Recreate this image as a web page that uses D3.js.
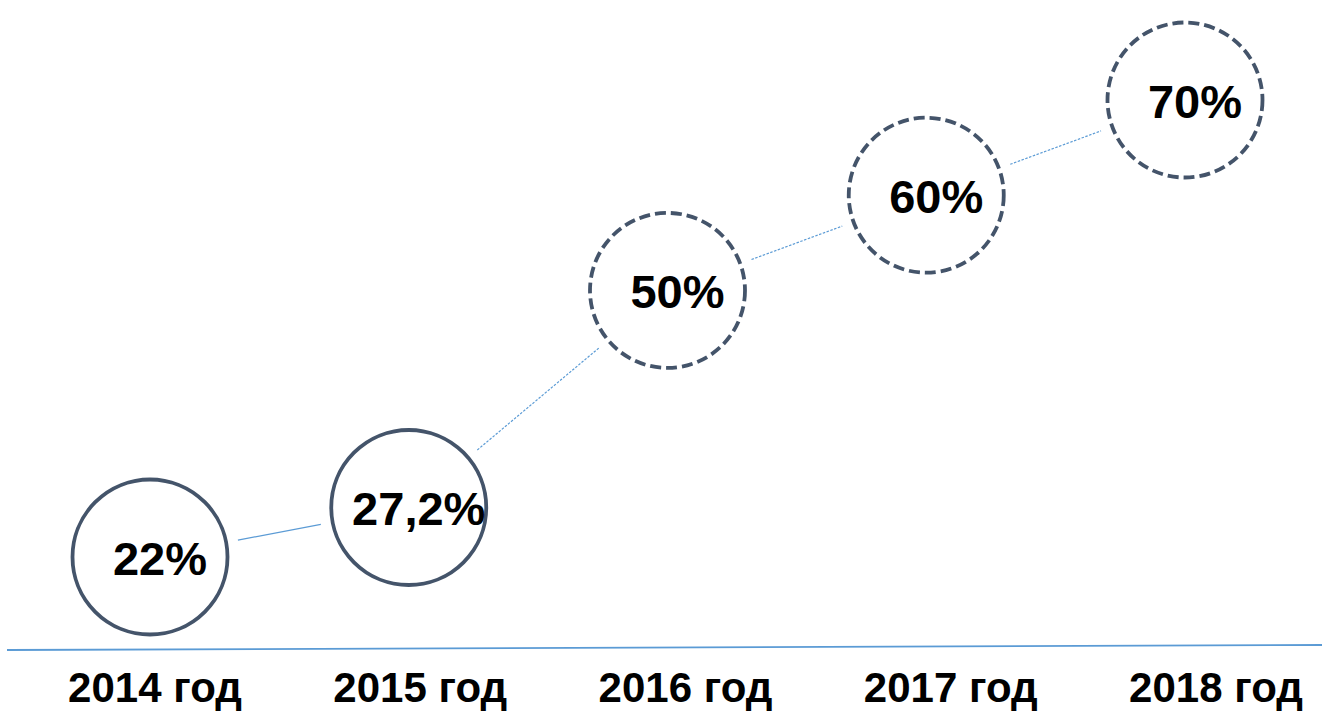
<!DOCTYPE html>
<html>
<head>
<meta charset="utf-8">
<script src="https://cdn.jsdelivr.net/npm/d3@7"></script>
<style>
body { margin: 0; background: #fff; }
svg { display: block; font-family: "Liberation Sans", Arial, sans-serif; }
</style>
</head>
<body>
<div id="chart"></div>
<script>
const years = ['2014 год', '2015 год', '2016 год', '2017 год', '2018 год'];
const values = [22, 27.2, 50, 60, 70];
const valueLabels = ['22%', '27,2%', '50%', '60%', '70%'];
const forecast = [false, false, true, true, true];

const width = 1322;
const height = 711;
const r = 77.5;

const svg = d3.select('#chart')
.append('svg')
.attr('width', width)
.attr('height', height);

const x = d3.scalePoint()
.domain(years)
.range([150, 1185]);

const xLabel = d3.scalePoint()
.domain(years)
.range([155, 1216]);

const y = d3.scaleLinear()
.domain([22, 70])
.range([557, 100]);

const points = years.map((d, i) => ({
    year: d,
    value: values[i],
    label: valueLabels[i],
    forecast: forecast[i],
    cx: x(d),
    cy: y(values[i])
}));

// baseline
svg.append('line')
.attr('x1', 7).attr('y1', 650)
.attr('x2', width).attr('y2', 645)
.attr('stroke', '#5B9BD5')
.attr('stroke-width', 1.8);

// connectors between circles
const links = d3.pairs(points);
svg.selectAll('.link')
.data(links)
.enter()
.append('line')
.attr('class', 'link')
.each(function(d) {
    const a = d[0], b = d[1];
    const dx = b.cx - a.cx, dy = b.cy - a.cy;
    const len = Math.sqrt(dx * dx + dy * dy);
    const gap = r + 12;
    d3.select(this)
    .attr('x1', a.cx + dx / len * gap)
    .attr('y1', a.cy + dy / len * gap)
    .attr('x2', b.cx - dx / len * gap)
    .attr('y2', b.cy - dy / len * gap);
})
.attr('stroke', '#5B9BD5')
.attr('stroke-width', 1.2)
.attr('stroke-dasharray', d => d[1].forecast ? '2.5,1.5' : null);

// circles
svg.selectAll('.dot')
.data(points)
.enter()
.append('circle')
.attr('class', 'dot')
.attr('cx', d => d.cx)
.attr('cy', d => d.cy)
.attr('r', r)
.attr('fill', 'none')
.attr('stroke', '#44546A')
.attr('stroke-width', 3.8)
.attr('stroke-dasharray', d => d.forecast ? '11,5' : null);

// value labels
svg.selectAll('.val')
.data(points)
.enter()
.append('text')
.attr('class', 'val')
.attr('x', d => d.cx + 10)
.attr('y', d => d.cy + 18)
.attr('text-anchor', 'middle')
.attr('font-size', 47)
.attr('font-weight', 'bold')
.attr('fill', '#000')
.text(d => d.label);

// year labels
svg.selectAll('.year')
.data(points)
.enter()
.append('text')
.attr('class', 'year')
.attr('x', d => xLabel(d.year))
.attr('y', 702)
.attr('text-anchor', 'middle')
.attr('font-size', 42)
.attr('font-weight', 'bold')
.attr('fill', '#000')
.text(d => d.year);
</script>
</body>
</html>
